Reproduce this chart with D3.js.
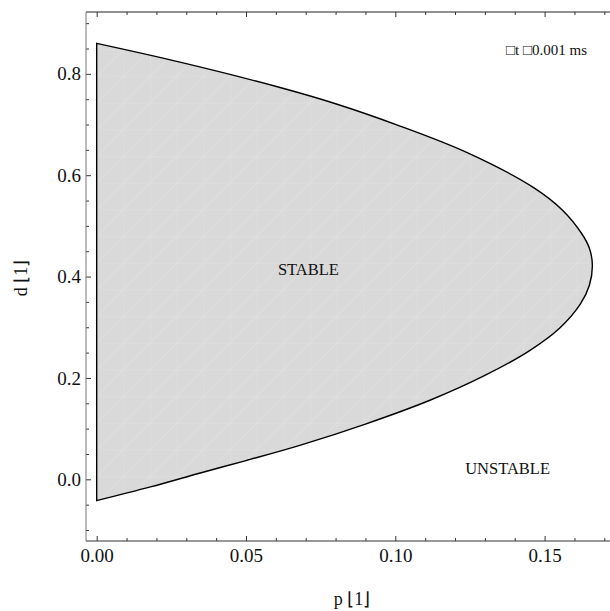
<!DOCTYPE html>
<html>
<head>
<meta charset="utf-8">
<script src="https://cdn.jsdelivr.net/npm/d3@7"></script>
<style>
  body { margin: 0; background: #fff; }
  svg text { font-family: 'Liberation Serif', 'Times New Roman', serif; fill: #111; }
</style>
</head>
<body>
<svg width="610" height="611"></svg>
<script>
    // boundary of the stable region: lower branch -> tip -> upper branch
    const boundaryP = [0, 0.018, 0.035, 0.050, 0.068, 0.090, 0.112, 0.130, 0.145, 0.155, 0.162, 0.165, 0.166,
                       0.165, 0.1624, 0.156, 0.1462, 0.1239, 0.1016, 0.080, 0.0614, 0.0279, 0];
    const boundaryD = [-0.042, -0.015, 0.013, 0.037, 0.067, 0.109, 0.157, 0.205, 0.254, 0.298, 0.346, 0.383, 0.422,
                       0.456, 0.485, 0.531, 0.576, 0.645, 0.697, 0.741, 0.773, 0.823, 0.860];

    // ticks
    const xTicks = [0, 0.05, 0.10, 0.15];
    const xTickLabels = ['0.00', '0.05', '0.10', '0.15'];
    const xMinorTicks = [0.01, 0.02, 0.03, 0.04, 0.06, 0.07, 0.08, 0.09, 0.11, 0.12, 0.13, 0.14, 0.16, 0.17];
    const yTicks = [0, 0.2, 0.4, 0.6, 0.8];
    const yTickLabels = ['0.0', '0.2', '0.4', '0.6', '0.8'];
    const yMinorTicks = [-0.1, -0.05, 0.05, 0.1, 0.15, 0.25, 0.3, 0.35, 0.45, 0.5, 0.55, 0.65, 0.7, 0.75, 0.85, 0.9];

    const serif = "'Liberation Serif', 'Times New Roman', serif";
    const svg = d3.select('svg');

    // frame in pixels
    const frame = { left: 86, right: 614, top: 12, bottom: 541 };

    // scales
    const xScale = d3.scaleLinear()
      .domain([-0.00358, 0.17324])
      .range([frame.left, frame.right]);
    const yScale = d3.scaleLinear()
      .domain([-0.1217, 0.922])
      .range([frame.bottom, frame.top]);

    // faint mesh texture inside the region
    const cell = 26.67;
    const pat = svg.append('defs')
      .append('pattern')
      .attr('id', 'mesh')
      .attr('patternUnits', 'userSpaceOnUse')
      .attr('x', xScale(0))
      .attr('y', yScale(0.8) + 2.3)
      .attr('width', cell)
      .attr('height', cell);
    pat.append('rect').attr('width', cell).attr('height', cell).attr('fill', '#d9d9d9');
    pat.append('path')
      .attr('d', 'M0,0H' + cell + 'M0,0V' + cell + 'M0,' + cell + 'L' + cell + ',0')
      .attr('stroke', '#e2e2e2')
      .attr('stroke-width', 0.8)
      .attr('fill', 'none');

    // region
    const points = boundaryP.map(function(p, i) { return [p, boundaryD[i]]; });
    const line = d3.line()
      .x(function(d) { return xScale(d[0]); })
      .y(function(d) { return yScale(d[1]); })
      .curve(d3.curveCatmullRom.alpha(0.5));

    svg.append('path')
      .attr('d', line(points) + 'Z')
      .attr('fill', 'url(#mesh)')
      .attr('stroke', '#000')
      .attr('stroke-width', 1.4)
      .attr('stroke-linejoin', 'miter');

    // axes (ticks point inward)
    function styleAxis(g) {
      g.attr('font-family', serif).attr('font-size', 19);
      g.select('.domain').remove();
      g.selectAll('line').attr('stroke', '#333');
      g.selectAll('text')
        .attr('fill', '#111')
        .attr('font-family', serif)
        .style('font-family', serif);
    }

    svg.append('g')
      .attr('transform', 'translate(0,' + frame.bottom + ')')
      .call(d3.axisBottom(xScale).tickValues(xTicks).tickSize(-5).tickPadding(7.5)
        .tickFormat(function(d, i) { return xTickLabels[i]; }))
      .call(styleAxis);
    svg.append('g')
      .attr('transform', 'translate(0,' + frame.bottom + ')')
      .call(d3.axisBottom(xScale).tickValues(xMinorTicks).tickSize(-3).tickFormat(''))
      .call(styleAxis);
    svg.append('g')
      .attr('transform', 'translate(0,' + frame.top + ')')
      .call(d3.axisTop(xScale).tickValues(xTicks).tickSize(-5).tickFormat(''))
      .call(styleAxis);
    svg.append('g')
      .attr('transform', 'translate(0,' + frame.top + ')')
      .call(d3.axisTop(xScale).tickValues(xMinorTicks).tickSize(-3).tickFormat(''))
      .call(styleAxis);

    svg.append('g')
      .attr('transform', 'translate(' + frame.left + ',0)')
      .call(d3.axisLeft(yScale).tickValues(yTicks).tickSize(-5).tickPadding(5)
        .tickFormat(function(d, i) { return yTickLabels[i]; }))
      .call(styleAxis);
    svg.append('g')
      .attr('transform', 'translate(' + frame.left + ',0)')
      .call(d3.axisLeft(yScale).tickValues(yMinorTicks).tickSize(-3).tickFormat(''))
      .call(styleAxis);

    // frame lines
    svg.append('line')
      .attr('x1', frame.left).attr('x2', frame.right)
      .attr('y1', frame.top).attr('y2', frame.top)
      .attr('stroke', '#222').attr('stroke-width', 1);
    svg.append('line')
      .attr('x1', frame.left).attr('x2', frame.right)
      .attr('y1', frame.bottom).attr('y2', frame.bottom)
      .attr('stroke', '#333').attr('stroke-width', 1);
    svg.append('line')
      .attr('x1', frame.left).attr('x2', frame.left)
      .attr('y1', frame.top).attr('y2', frame.bottom)
      .attr('stroke', '#777').attr('stroke-width', 1);

    // annotations
    svg.append('text')
      .attr('x', xScale(0.0709)).attr('y', yScale(0.404))
      .attr('text-anchor', 'middle').attr('font-size', 16.5)
      .text('STABLE');
    svg.append('text')
      .attr('x', xScale(0.1376)).attr('y', yScale(0.0105))
      .attr('text-anchor', 'middle').attr('font-size', 16.5)
      .text('UNSTABLE');
    svg.append('text')
      .attr('x', 587).attr('y', 55)
      .attr('text-anchor', 'end').attr('font-size', 15)
      .text('\u25A1t \u25A10.001 ms');

    // axis titles
    svg.append('text')
      .attr('x', 352).attr('y', 605)
      .attr('text-anchor', 'middle').attr('font-size', 18)
      .text('p \u230A1\u230B');
    svg.append('text')
      .attr('transform', 'translate(27,278) rotate(-90)')
      .attr('text-anchor', 'middle').attr('font-size', 18)
      .text('d \u230A1\u230B');
</script>
</body>
</html>
